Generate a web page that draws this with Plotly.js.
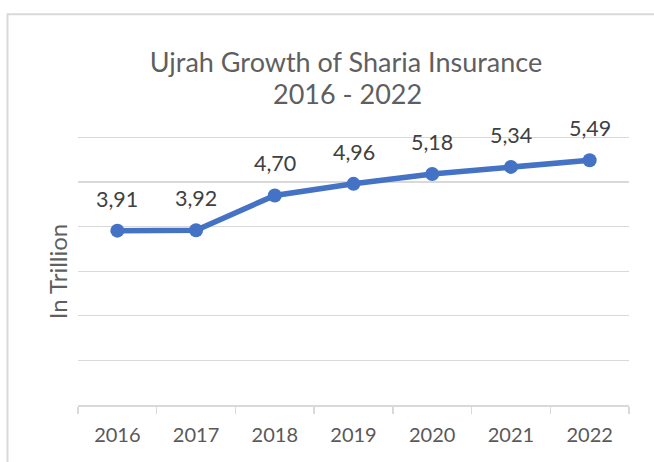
<!DOCTYPE html>
<html>
<head>
<meta charset="utf-8">
<script src="https://cdn.plot.ly/plotly-3.0.1.min.js"></script>
<style>
  html, body { margin: 0; padding: 0; background: #ffffff; }
  #chart { width: 654px; height: 462px; }
</style>
</head>
<body>
<div id="chart"></div>
<script>
// ---- data ----
var years = ['2016', '2017', '2018', '2019', '2020', '2021', '2022'];
var ujrah = [3.91, 3.92, 4.70, 4.96, 5.18, 5.34, 5.49];
var titleLine1 = 'Ujrah Growth of Sharia Insurance';
var titleLine2 = '2016 - 2022';
var yTitle = 'In Trillion';

// ---- styles ----
var FONT = 'Lato, "Open Sans", sans-serif';
var LINE_COLOR = '#4472C4';
var GRID = '#d9d9d9';
var TITLE_COLOR = '#5f5f5f';
var PLOT_H = 272.5;   // plot area height in px (range 0..6.1)

var trace = {
  type: 'scatter',
  mode: 'lines+markers',
  x: years,
  y: ujrah,
  line: { color: LINE_COLOR, width: 5.5 },
  marker: { color: LINE_COLOR, size: 14 },
  hoverinfo: 'skip',
  cliponaxis: false
};

var annotations = years.map(function (yr, i) {
  return {
    x: i, y: ujrah[i], xref: 'x', yref: 'y',
    text: ujrah[i].toFixed(2).replace('.', ','),
    showarrow: false,
    xanchor: 'center', yanchor: 'middle',
    yshift: 32,
    font: { family: FONT, size: 21.5, color: '#404040' }
  };
});

annotations.push({
  text: yTitle,
  xref: 'paper', yref: 'paper',
  x: (57 - 78) / 551, y: (405 - 272) / PLOT_H,
  xanchor: 'center', yanchor: 'middle',
  textangle: -90,
  showarrow: false,
  font: { family: FONT, size: 24, color: TITLE_COLOR }
});

annotations.push({
  text: titleLine2,
  xref: 'paper', yref: 'paper',
  x: (347 - 78) / 551, y: (405 - 93) / PLOT_H,
  xanchor: 'center', yanchor: 'middle',
  showarrow: false,
  font: { family: FONT, size: 27, color: TITLE_COLOR }
});

var layout = {
  width: 654,
  height: 462,
  margin: { l: 78, r: 25, t: 462 - 57 - PLOT_H, b: 57, pad: 0 },
  paper_bgcolor: '#ffffff',
  plot_bgcolor: '#ffffff',
  showlegend: false,
  title: {
    text: titleLine1,
    font: { family: FONT, size: 27, color: TITLE_COLOR },
    xref: 'container', yref: 'container',
    x: 346 / 654, xanchor: 'center',
    y: 1 - 63 / 462, yanchor: 'middle'
  },
  xaxis: {
    type: 'category',
    categoryorder: 'array',
    categoryarray: years,
    range: [-0.5, years.length - 0.5],
    autorange: false,
    showgrid: false,
    showline: true,
    linecolor: GRID,
    linewidth: 1.5,
    ticks: 'outside',
    tickson: 'boundaries',
    ticklen: 7,
    tickwidth: 1.5,
    tickcolor: GRID,
    ticklabelstandoff: 11,
    tickangle: 0,
    tickfont: { family: FONT, size: 20, color: '#595959' },
    zeroline: false,
    fixedrange: true
  },
  yaxis: {
    range: [0, 6.1],
    autorange: false,
    dtick: 1,
    tick0: 0,
    showgrid: true,
    gridcolor: GRID,
    gridwidth: 1.3,
    showticklabels: false,
    ticks: '',
    showline: false,
    zeroline: false,
    fixedrange: true
  },
  annotations: annotations,
  shapes: [{
    type: 'rect',
    xref: 'paper', yref: 'paper',
    x0: (7.5 - 78) / 551, x1: 1.2,
    y0: -0.5, y1: (405 - 13.5) / PLOT_H,
    line: { color: GRID, width: 2 },
    fillcolor: 'rgba(0,0,0,0)',
    layer: 'below'
  }]
};

Plotly.newPlot('chart', [trace], layout, { displayModeBar: false, staticPlot: true });
</script>
</body>
</html>
